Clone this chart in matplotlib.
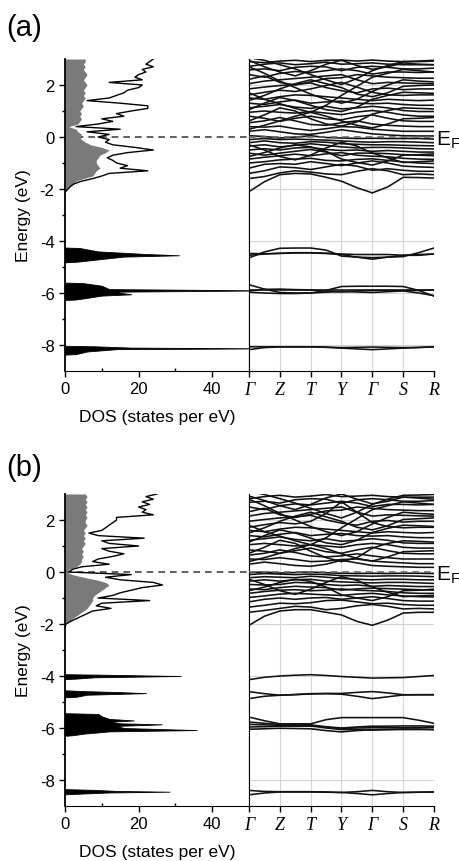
import numpy as np
import matplotlib
matplotlib.use('Agg')
import matplotlib.pyplot as plt

plt.rcParams.update({
    'font.family': 'Liberation Sans',
    'font.size': 12,
    'axes.unicode_minus': False,
    'mathtext.fontset': 'custom',
    'mathtext.rm': 'Liberation Sans',
    'mathtext.it': 'Liberation Sans:italic',
})

# ---------------------------------------------------------------- data
# valence/conduction DOS sampled every 0.1 eV from -2.1 to 3.0 eV
dos_energy = np.round(np.arange(-2.1, 3.01, 0.1), 1)

dos_a_total = [0.2, 0.8, 1.5, 2.5, 4.5, 7.5, 10, 12, 22.5, 15, 17, 14, 13, 11.5, 13, 17,
               24, 19, 13, 11, 12, 9, 12, 6, 15, 3, 9, 13, 10, 16, 14, 18, 22.5, 22.5,
               15, 6, 12, 14, 16, 17, 20, 21, 12, 21, 19, 20, 22, 21, 24, 22, 23, 24]
dos_a_part = [0.1, 0.4, 1.0, 2.0, 3.0, 5.0, 7.5, 8, 8.5, 9.5, 9, 8.5, 8.5, 9, 9.5, 11,
              12, 10, 7, 5.5, 4.5, 4, 4.5, 3.5, 3, 1, 3.5, 4, 4.5, 4, 4.5, 4, 4.5, 5,
              4.5, 5, 5.5, 5, 5.5, 5, 5.5, 6, 5.5, 5, 5.5, 6, 5.5, 5, 5.5, 5, 5.5, 5.5]
dos_b_total = [0, 0.3, 1.5, 3.0, 4.5, 6, 7.5, 12.5, 8.5, 10, 23, 9, 13, 15, 18, 21,
               26.5, 24, 15, 11, 18, 1.0, 2.0, 4.5, 12, 7.5, 9, 13, 16, 12, 10, 20, 12,
               10, 21.5, 9, 6.5, 10, 11, 12, 13, 14, 14, 24, 21, 22, 20, 23, 21, 24, 22, 25]
dos_b_part = [0, 0.2, 1.0, 2.0, 3.0, 4.0, 5.0, 6, 6.5, 7, 7.5, 7.5, 8, 9, 10, 11, 12,
              11, 8.5, 5, 2, 0.3, 1.0, 3.0, 4.0, 4.5, 4.5, 5, 4.5, 5, 4.5, 5, 5.5, 5,
              5.5, 5, 5.5, 5, 5.5, 6, 5.5, 5.5, 6, 5.5, 6, 5.5, 6, 5.5, 6, 5.5, 6, 5.5]

# semicore peaks: (energies, DOS)
peaks_a = [
    ([-4.25, -4.27, -4.40, -4.50, -4.55, -4.60, -4.80, -4.82],
     [0, 4, 9, 22, 31, 16, 3, 0]),
    ([-5.60, -5.62, -5.72, -5.85, -5.90, -5.95, -6.05, -6.10, -6.25, -6.27],
     [0, 5, 10, 12, 55, 13, 18, 10, 3, 0]),
    ([-8.03, -8.05, -8.10, -8.13, -8.16, -8.25, -8.35, -8.37],
     [0, 8, 18, 55, 14, 6, 3, 0]),
]
peaks_b = [
    ([-3.93, -3.95, -4.00, -4.05, -4.10, -4.12],
     [0, 10, 31.5, 8, 3, 0]),
    ([-4.55, -4.58, -4.62, -4.66, -4.72, -4.80, -4.82],
     [0, 5, 15, 22, 6, 3, 0]),
    ([-5.43, -5.46, -5.55, -5.65, -5.71, -5.76, -5.82, -5.86, -5.92, -6.00, -6.08,
      -6.13, -6.22, -6.28, -6.30],
     [0, 9, 10, 12, 18.7, 12, 15, 26.3, 14, 16, 35.8, 12, 5, 2, 0]),
    ([-8.35, -8.38, -8.42, -8.45, -8.48, -8.52, -8.55],
     [0, 8, 14, 28.4, 12, 5, 0]),
]

# band path: high-symmetry points and half-way points between them
kpath_labels = ['Γ', 'Z', 'T', 'Y', 'Γ', 'S', 'R']
k_steps = np.arange(0, 6.01, 0.5)

bands_a = [
    [-2.10, -1.72, -1.45, -1.40, -1.42, -1.55, -1.70, -1.95, -2.15, -1.92, -1.55, -1.56, -1.58],
    [-1.60, -1.52, -1.38, -1.30, -1.35, -1.42, -1.45, -1.32, -1.22, -1.30, -1.45, -1.42, -1.45],
    [-1.40, -1.30, -1.15, -1.18, -1.25, -1.15, -1.05, -1.12, -1.28, -1.22, -1.28, -1.32, -1.32],
    [-1.20, -1.05, -1.02, -1.05, -0.95, -1.02, -1.10, -1.00, -0.92, -1.00, -1.12, -1.15, -1.17],
    [-1.00, -0.95, -0.88, -0.85, -0.82, -0.90, -0.92, -0.86, -0.84, -0.90, -0.96, -1.00, -1.02],
    [-0.85, -0.78, -0.72, -0.66, -0.72, -0.65, -0.60, -0.70, -0.74, -0.76, -0.82, -0.85, -0.86],
    [-0.62, -0.70, -0.62, -0.55, -0.48, -0.58, -0.72, -0.62, -0.62, -0.64, -0.68, -0.70, -0.72],
    [-0.50, -0.45, -0.50, -0.42, -0.40, -0.48, -0.52, -0.50, -0.55, -0.52, -0.55, -0.58, -0.58],
    [-0.35, -0.30, -0.38, -0.32, -0.26, -0.32, -0.38, -0.42, -0.40, -0.40, -0.42, -0.45, -0.46],
    [-0.22, -0.15, -0.22, -0.24, -0.18, -0.20, -0.26, -0.28, -0.30, -0.30, -0.32, -0.33, -0.34],
    [-0.10, -0.06, -0.10, -0.08, -0.10, -0.12, -0.15, -0.18, -0.20, -0.18, -0.18, -0.20, -0.22],
    [0.05, 0.02, -0.04, 0.00, 0.05, -0.02, -0.04, -0.06, -0.05, -0.06, -0.06, -0.06, -0.08],
    [-0.30, -0.50, -0.75, -0.88, -0.70, -0.42, -0.20, -0.35, -0.62, -0.80, -0.98, -0.95, -0.92],
    [-0.75, -0.60, -0.42, -0.30, -0.38, -0.55, -0.85, -0.98, -1.08, -0.92, -0.70, -0.68, -0.65],
    [0.22, 0.28, 0.20, 0.12, 0.10, 0.18, 0.28, 0.20, 0.12, 0.08, 0.05, 0.04, 0.04],
    [0.40, 0.38, 0.42, 0.32, 0.25, 0.32, 0.40, 0.38, 0.30, 0.26, 0.22, 0.22, 0.22],
    [0.55, 0.62, 0.75, 0.62, 0.48, 0.45, 0.55, 0.62, 0.50, 0.45, 0.42, 0.40, 0.40],
    [0.80, 0.72, 0.60, 0.72, 0.80, 0.70, 0.66, 0.78, 0.85, 0.72, 0.62, 0.60, 0.60],
    [0.95, 1.00, 0.95, 0.92, 0.98, 0.92, 0.86, 0.96, 1.02, 0.95, 0.85, 0.80, 0.80],
    [1.12, 1.18, 1.25, 1.15, 1.10, 1.18, 1.08, 1.12, 1.18, 1.12, 1.02, 0.98, 0.98],
    [1.30, 1.25, 1.35, 1.42, 1.30, 1.35, 1.38, 1.30, 1.28, 1.30, 1.25, 1.22, 1.22],
    [1.50, 1.45, 1.55, 1.62, 1.60, 1.55, 1.50, 1.45, 1.40, 1.45, 1.42, 1.40, 1.42],
    [1.62, 1.72, 1.80, 1.75, 1.85, 1.98, 2.10, 1.92, 1.72, 1.62, 1.60, 1.62, 1.62],
    [1.85, 1.92, 1.98, 2.02, 2.08, 1.90, 1.78, 1.70, 1.85, 1.88, 1.82, 1.85, 1.85],
    [2.05, 2.15, 2.20, 2.25, 2.30, 2.35, 2.40, 2.20, 2.05, 2.10, 2.08, 2.06, 2.05],
    [2.22, 2.35, 2.10, 2.00, 2.12, 2.25, 2.28, 2.40, 2.35, 2.30, 2.28, 2.26, 2.26],
    [2.40, 2.30, 2.45, 2.52, 2.48, 2.55, 2.62, 2.55, 2.42, 2.50, 2.50, 2.48, 2.50],
    [2.58, 2.62, 2.55, 2.68, 2.72, 2.70, 2.55, 2.68, 2.72, 2.68, 2.62, 2.62, 2.65],
    [2.72, 2.80, 2.85, 2.78, 2.82, 2.88, 2.80, 2.82, 2.85, 2.80, 2.78, 2.78, 2.78],
    [2.90, 2.86, 2.92, 2.95, 2.90, 2.95, 2.96, 2.92, 2.96, 2.92, 2.90, 2.90, 2.92],
    [0.62, 0.85, 1.12, 1.00, 0.70, 0.50, 0.42, 0.58, 0.88, 1.02, 1.12, 1.10, 1.08],
    [2.70, 2.45, 2.15, 1.90, 1.65, 1.45, 1.30, 1.45, 1.75, 2.00, 2.20, 2.15, 2.12],
    [1.70, 1.45, 1.28, 1.10, 0.95, 1.22, 1.60, 1.95, 2.30, 2.45, 2.60, 2.55, 2.50],
    [2.95, 2.70, 2.50, 2.35, 2.55, 2.80, 2.95, 2.75, 2.60, 2.70, 2.85, 2.80, 2.78],
    [1.40, 1.60, 1.85, 2.05, 2.20, 2.05, 1.90, 1.65, 1.55, 1.70, 1.95, 1.98, 2.00],
    [0.30, 0.45, 0.62, 0.80, 0.95, 0.80, 0.62, 0.45, 0.35, 0.50, 0.70, 0.72, 0.75],
    [3.05, 2.95, 2.78, 2.62, 2.40, 2.20, 2.02, 2.25, 2.55, 2.75, 2.90, 2.92, 2.95],
    [1.05, 1.30, 1.52, 1.40, 1.22, 1.05, 0.98, 1.15, 1.45, 1.60, 1.72, 1.70, 1.68],
    # semicore
    [-4.65, -4.42, -4.28, -4.27, -4.27, -4.35, -4.58, -4.62, -4.64, -4.62, -4.60, -4.45, -4.27],
    [-4.55, -4.50, -4.47, -4.45, -4.45, -4.47, -4.50, -4.52, -4.52, -4.52, -4.55, -4.55, -4.50],
    [-4.48, -4.49, -4.48, -4.46, -4.46, -4.48, -4.52, -4.62, -4.70, -4.62, -4.55, -4.52, -4.50],
    [-5.68, -5.85, -5.98, -6.00, -6.00, -5.90, -5.75, -5.74, -5.74, -5.74, -5.75, -5.90, -6.12],
    [-5.90, -5.90, -5.90, -5.90, -5.90, -5.90, -5.90, -5.90, -5.90, -5.90, -5.90, -5.90, -5.90],
    [-5.92, -5.86, -5.85, -5.87, -5.88, -5.92, -5.96, -5.92, -5.90, -5.90, -5.91, -5.90, -5.88],
    [-5.97, -6.00, -6.02, -6.02, -6.00, -5.97, -5.94, -5.96, -5.98, -5.95, -5.92, -6.00, -6.10],
    [-8.18, -8.10, -8.07, -8.07, -8.07, -8.09, -8.12, -8.15, -8.18, -8.15, -8.12, -8.10, -8.07],
    [-8.07, -8.07, -8.07, -8.07, -8.07, -8.08, -8.10, -8.09, -8.08, -8.09, -8.10, -8.09, -8.07],
]

bands_b = [
    [-2.05, -1.70, -1.50, -1.45, -1.45, -1.55, -1.65, -1.90, -2.05, -1.85, -1.58, -1.55, -1.55],
    [-1.55, -1.48, -1.40, -1.32, -1.35, -1.45, -1.40, -1.30, -1.25, -1.32, -1.42, -1.40, -1.42],
    [-1.35, -1.28, -1.20, -1.22, -1.18, -1.10, -1.08, -1.15, -1.22, -1.20, -1.25, -1.28, -1.28],
    [-1.15, -1.05, -1.00, -1.05, -1.00, -0.98, -1.05, -1.00, -0.95, -1.02, -1.10, -1.12, -1.12],
    [-0.98, -0.92, -0.85, -0.82, -0.85, -0.88, -0.90, -0.85, -0.82, -0.88, -0.92, -0.95, -0.96],
    [-0.82, -0.75, -0.70, -0.68, -0.72, -0.70, -0.65, -0.70, -0.72, -0.75, -0.80, -0.82, -0.82],
    [-0.65, -0.68, -0.60, -0.55, -0.58, -0.60, -0.70, -0.65, -0.62, -0.64, -0.66, -0.68, -0.70],
    [-0.48, -0.50, -0.48, -0.40, -0.42, -0.48, -0.52, -0.50, -0.55, -0.52, -0.54, -0.56, -0.56],
    [-0.35, -0.30, -0.35, -0.30, -0.28, -0.35, -0.38, -0.40, -0.42, -0.40, -0.40, -0.42, -0.44],
    [-0.22, -0.18, -0.20, -0.22, -0.16, -0.20, -0.25, -0.28, -0.30, -0.28, -0.28, -0.30, -0.30],
    [-0.10, -0.06, -0.08, -0.10, -0.08, -0.10, -0.14, -0.15, -0.16, -0.15, -0.15, -0.16, -0.18],
    [-0.02, 0.00, -0.04, -0.02, 0.00, -0.03, -0.05, -0.06, -0.05, -0.06, -0.05, -0.05, -0.06],
    [-0.28, -0.48, -0.72, -0.86, -0.66, -0.40, -0.18, -0.32, -0.58, -0.78, -0.95, -0.92, -0.90],
    [-0.72, -0.58, -0.40, -0.28, -0.36, -0.58, -0.88, -1.00, -1.10, -0.95, -0.72, -0.70, -0.66],
    [0.30, 0.38, 0.32, 0.25, 0.22, 0.30, 0.45, 0.35, 0.25, 0.22, 0.20, 0.18, 0.18],
    [0.50, 0.48, 0.55, 0.48, 0.40, 0.42, 0.48, 0.50, 0.42, 0.38, 0.35, 0.32, 0.32],
    [0.65, 0.72, 0.85, 0.75, 0.62, 0.58, 0.62, 0.70, 0.62, 0.55, 0.50, 0.50, 0.50],
    [0.85, 0.80, 0.72, 0.82, 0.92, 0.78, 0.72, 0.85, 0.95, 0.82, 0.72, 0.70, 0.70],
    [1.05, 1.10, 1.05, 1.00, 1.05, 1.00, 0.95, 1.05, 1.10, 1.05, 0.95, 0.92, 0.92],
    [1.22, 1.28, 1.35, 1.25, 1.20, 1.28, 1.18, 1.22, 1.28, 1.22, 1.12, 1.10, 1.10],
    [1.40, 1.35, 1.45, 1.52, 1.40, 1.45, 1.48, 1.40, 1.38, 1.40, 1.35, 1.32, 1.32],
    [1.60, 1.55, 1.65, 1.72, 1.70, 1.65, 1.60, 1.55, 1.50, 1.55, 1.52, 1.50, 1.52],
    [1.72, 1.82, 1.90, 1.85, 1.95, 2.25, 2.70, 2.30, 1.90, 1.75, 1.70, 1.72, 1.72],
    [1.95, 2.02, 2.08, 2.12, 2.18, 2.00, 1.88, 1.80, 1.95, 1.98, 1.92, 1.95, 1.95],
    [2.15, 2.25, 2.30, 2.35, 2.40, 2.45, 2.50, 2.30, 2.15, 2.20, 2.18, 2.16, 2.15],
    [2.32, 2.45, 2.20, 2.10, 2.22, 2.35, 2.38, 2.50, 2.45, 2.40, 2.38, 2.36, 2.36],
    [2.50, 2.40, 2.55, 2.62, 2.58, 2.65, 2.72, 2.65, 2.52, 2.60, 2.60, 2.58, 2.60],
    [2.68, 2.72, 2.65, 2.78, 2.82, 2.80, 2.65, 2.78, 2.82, 2.78, 2.72, 2.72, 2.75],
    [2.82, 2.90, 2.95, 2.88, 2.92, 2.98, 2.90, 2.92, 2.95, 2.90, 2.88, 2.88, 2.88],
    [0.72, 0.95, 1.22, 1.10, 0.80, 0.55, 0.40, 0.55, 0.92, 1.10, 1.20, 1.18, 1.15],
    [2.80, 2.55, 2.25, 2.00, 1.75, 1.55, 1.40, 1.55, 1.85, 2.10, 2.30, 2.25, 2.22],
    [1.80, 1.55, 1.38, 1.20, 1.05, 1.32, 1.70, 2.05, 2.40, 2.55, 2.70, 2.65, 2.60],
    [2.92, 2.75, 2.55, 2.40, 2.60, 2.85, 3.00, 2.80, 2.62, 2.72, 2.88, 2.84, 2.80],
    [1.50, 1.70, 1.95, 2.15, 2.30, 2.12, 1.95, 1.72, 1.62, 1.78, 2.02, 2.05, 2.08],
    [0.40, 0.55, 0.72, 0.90, 1.05, 0.90, 0.70, 0.52, 0.42, 0.58, 0.78, 0.80, 0.82],
    [3.10, 2.98, 2.82, 2.65, 2.45, 2.25, 2.08, 2.30, 2.60, 2.80, 2.95, 2.96, 2.98],
    [1.15, 1.40, 1.62, 1.50, 1.30, 1.12, 1.05, 1.22, 1.52, 1.68, 1.80, 1.78, 1.75],
    # semicore
    [-4.14, -4.05, -4.00, -3.97, -3.95, -3.98, -4.02, -4.05, -4.08, -4.07, -4.06, -4.02, -3.98],
    [-4.60, -4.68, -4.74, -4.71, -4.68, -4.67, -4.67, -4.63, -4.60, -4.65, -4.72, -4.72, -4.72],
    [-4.87, -4.78, -4.74, -4.72, -4.69, -4.68, -4.70, -4.78, -4.87, -4.80, -4.73, -4.72, -4.72],
    [-5.58, -5.72, -5.84, -5.84, -5.84, -5.68, -5.60, -5.60, -5.60, -5.60, -5.60, -5.70, -5.82],
    [-5.77, -5.82, -5.86, -5.87, -5.88, -5.95, -6.00, -5.96, -5.93, -5.93, -5.92, -5.92, -5.93],
    [-5.96, -5.95, -5.93, -5.93, -5.93, -5.97, -6.02, -6.00, -5.99, -5.99, -5.99, -5.98, -5.97],
    [-6.05, -6.03, -6.01, -6.02, -6.03, -6.10, -6.15, -6.10, -6.07, -6.06, -6.06, -6.06, -6.06],
    [-5.86, -5.88, -5.90, -5.90, -5.90, -6.00, -6.06, -6.07, -6.08, -6.06, -6.04, -6.04, -6.06],
    [-8.40, -8.44, -8.45, -8.45, -8.45, -8.46, -8.48, -8.45, -8.40, -8.45, -8.48, -8.47, -8.46],
    [-8.57, -8.50, -8.46, -8.46, -8.46, -8.47, -8.48, -8.52, -8.57, -8.52, -8.48, -8.47, -8.46],
]

W, H = 459, 862


def draw_panel(fig, top, bottom, tag, tag_y, total, part, peaks, bands):
    y0 = 1 - bottom / H
    h = (bottom - top) / H
    ax_d = fig.add_axes([65 / W, y0, 184 / W, h])
    ax_b = fig.add_axes([249 / W, y0, 185 / W, h])

    # --- DOS
    ax_d.fill_betweenx(dos_energy, 0, part, color='#7a7a7a', lw=0, zorder=2)
    ax_d.plot(total, dos_energy, color='k', lw=1.0, zorder=3)
    for pe, pd in peaks:
        ax_d.fill_betweenx(pe, 0, pd, color='k', lw=0.6, zorder=3)
    ax_d.axhline(0, color='#444444', lw=1.2, ls=(0, (4, 3)), zorder=1)
    ax_d.set_xlim(0, 50)
    ax_d.set_ylim(-9, 3)
    ax_d.spines['top'].set_visible(False)
    ax_d.spines['left'].set_linewidth(1.3)
    ax_d.set_xticks([0, 20, 40])
    ax_d.set_xticks([10, 30], minor=True)
    ax_d.set_yticks(range(-8, 3, 2))
    ax_d.set_yticks(range(-7, 2, 2), minor=True)
    ax_d.tick_params(which='major', direction='out', length=4, width=1, labelsize=12)
    ax_d.tick_params(which='minor', direction='out', length=2.5, width=1)
    ax_d.tick_params(axis='x', which='minor', direction='in')
    ax_d.set_xlabel('DOS (states per eV)', fontsize=12.5, labelpad=9)
    ax_d.set_ylabel('Energy (eV)', fontsize=12.5, labelpad=6)

    # --- bands
    for e in range(-8, 3, 2):
        ax_b.axhline(e, color='#d4d4d4', lw=0.8, zorder=0)
    for k in range(1, 6):
        ax_b.axvline(k, color='#d4d4d4', lw=0.8, zorder=0)
    for b in bands:
        ax_b.plot(k_steps, b, color='#111111', lw=1.15, solid_joinstyle='round', zorder=2)
    ax_b.axhline(0, color='#666666', lw=1.2, ls=(0, (4, 3)), zorder=3)
    ax_b.set_xlim(0, 6)
    ax_b.set_ylim(-9, 3)
    ax_b.spines['top'].set_visible(False)
    ax_b.spines['right'].set_visible(False)
    ax_b.set_yticks([])
    ax_b.set_xticks(range(7))
    ax_b.set_xticklabels(kpath_labels, fontfamily='Liberation Serif',
                         fontstyle='italic', fontsize=13)
    ax_b.tick_params(axis='x', direction='out', length=4, width=1)

    ef_y = top + (bottom - top) * 3 / 12
    fig.text(436 / W, 1 - (ef_y + 2) / H, r'E$_\mathrm{F}$', fontsize=15, va='center', ha='left')
    fig.text(6 / W, 1 - tag_y / H, tag, fontsize=21, va='center', ha='left')


fig = plt.figure(figsize=(W / 100, H / 100), dpi=100)
draw_panel(fig, 60, 372, '(a)', 28, dos_a_total, dos_a_part, peaks_a, bands_a)
draw_panel(fig, 495, 807, '(b)', 468, dos_b_total, dos_b_part, peaks_b, bands_b)
fig.savefig('out.png', dpi=100)
